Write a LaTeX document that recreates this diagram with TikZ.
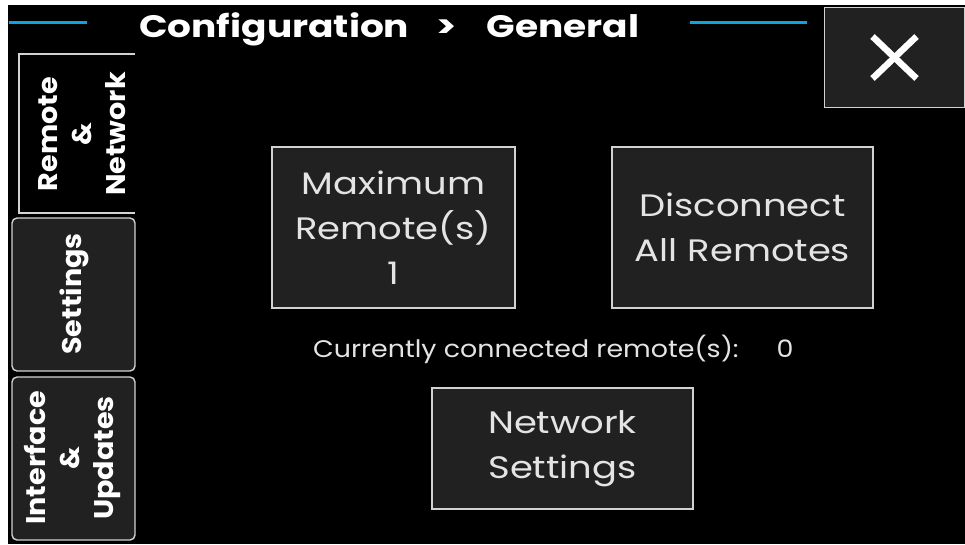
\documentclass[tikz,border=0pt]{standalone}
\usepackage{fontspec}
\setmainfont{Poppins}
\newfontfamily\titlefont[FakeStretch=1.21]{Poppins}
\newfontfamily\btnfont[FakeStretch=1.19]{Poppins}
\newfontfamily\infofont[FakeStretch=1.12]{Poppins}
\newfontfamily\tabfont[FakeStretch=1.06]{Poppins}
\definecolor{panel}{HTML}{212121}
\definecolor{edge}{HTML}{D2D2D2}
\definecolor{accent}{HTML}{0AA6E0}
\definecolor{txt}{HTML}{E4E4E4}
\begin{document}
\begin{tikzpicture}[x=1pt,y=-1pt,
  btn/.style={draw=edge, line width=1.6pt, fill=panel, inner sep=0pt,
    text=txt, font=\btnfont\fontsize{31}{45}\selectfont, align=center},
  tabbox/.style={draw=edge, line width=1.4pt, fill=panel, rounded corners=5pt},
  tabtext/.style={text=white, font=\tabfont\bfseries\fontsize{27}{34}\selectfont,
    align=center, rotate=90, inner sep=0pt},
  bluebar/.style={draw=accent, line width=3pt},
  info/.style={text=txt, font=\infofont\fontsize{24}{28}\selectfont, inner sep=0pt}]
\useasboundingbox (0,0) rectangle (965,544);
\fill[white] (0,0) rectangle (965,544);
\fill[black] (8,5) rectangle (965,544);
% header
\coordinate (bl1) at (9,22);
\coordinate (bl2) at (87,22);
\coordinate (br1) at (690,22);
\coordinate (br2) at (807,22);
\draw[bluebar] (bl1) -- (bl2);
\draw[bluebar] (br1) -- (br2);
\node[anchor=base west, text=white, inner sep=0pt,
  font=\titlefont\bfseries\fontsize{31}{36}\selectfont] (title) at (139,37)
  {Configuration\hspace{27pt}>\hspace{30pt}General};
% close button
\node[btn, minimum width=140pt, minimum height=100pt] (close) at (894.5,57.5) {};
\draw[white, line width=6.5pt] ([shift={(-22pt,21pt)}]close.center) -- ([shift={(22pt,-21pt)}]close.center);
\draw[white, line width=6.5pt] ([shift={(-22pt,-21pt)}]close.center) -- ([shift={(22pt,21pt)}]close.center);
% tabs
\draw[draw=edge, line width=1.4pt] (135,54) -- (19,54) -- (19,213) -- (135,213);
\node[tabtext] (tabremote) at (82,134) {Remote\\\&\\Network};
\draw[tabbox] (135,218) rectangle (12,371);
\node[tabtext] (tabsettings) at (74,294) {Settings};
\draw[tabbox] (135,377) rectangle (12,540);
\node[tabtext] (tabinterface) at (73,458) {Interface\\\&\\Updates};
% buttons
\node[btn, minimum width=243pt, minimum height=161pt] (maxr) at (393.5,227.5)
  {Maximum\\Remote(s)\\1};
\node[btn, minimum width=261pt, minimum height=161pt] (disc) at (742.5,227.5)
  {Disconnect\\All Remotes};
\node[anchor=base west, info] (count) at (313,357)
  {Currently connected remote(s):\hspace{38pt}0};
\node[btn, minimum width=261pt, minimum height=121pt] (netset) at (562.5,448.5)
  {Network\\Settings};
\end{tikzpicture}
\end{document}
